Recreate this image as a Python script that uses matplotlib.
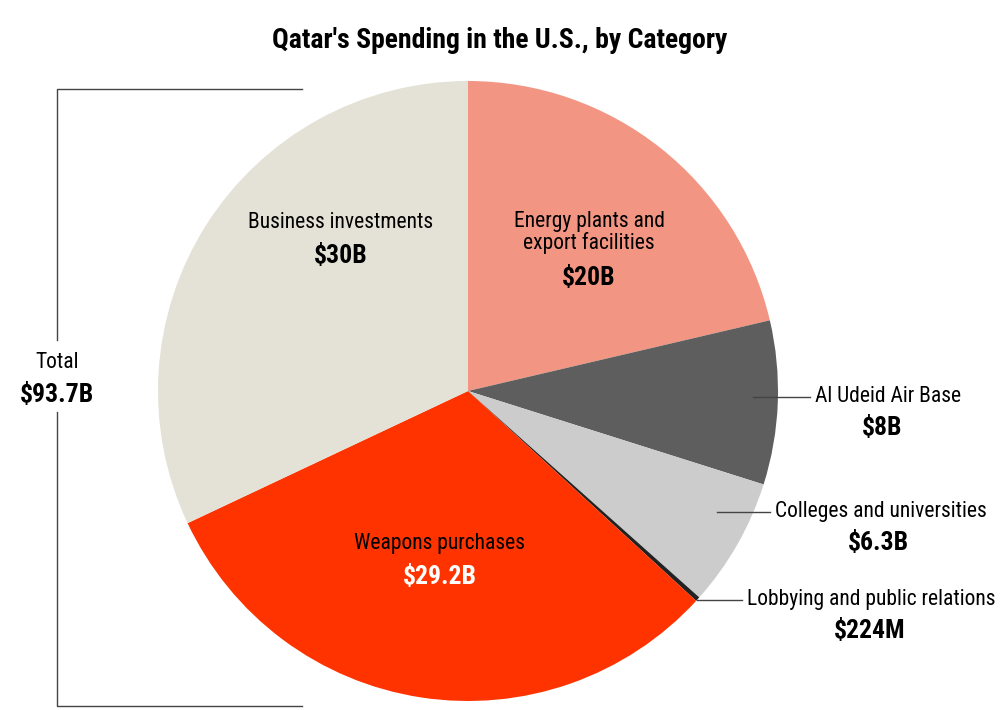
import matplotlib
matplotlib.use("Agg")
import matplotlib.pyplot as plt
from matplotlib import font_manager

# data
categories = ["Energy plants and\nexport facilities", "Al Udeid Air Base",
              "Colleges and universities", "Lobbying and public relations",
              "Weapons purchases", "Business investments"]
values = [20, 8, 6.3, 0.224, 29.2, 30]
value_labels = ["$20B", "$8B", "$6.3B", "$224M", "$29.2B", "$30B"]
colors = ["#F29683", "#5E5E5E", "#CCCCCC", "#222222", "#FF3300", "#E4E2D6"]
total_label = "$93.7B"

names = {f.name for f in font_manager.fontManager.ttflist}
fam = "DejaVu Sans"
for cand in ["Roboto Condensed", "Liberation Sans Narrow", "DejaVu Sans Condensed"]:
    if cand in names:
        fam = cand
        break
plt.rcParams["font.family"] = [fam, "DejaVu Sans"]

fig = plt.figure(figsize=(10, 7.1), dpi=100)
ax = fig.add_axes([0, 0, 1, 1])

cx, cy, r = 468, 391, 310
# y axis is inverted, so counterclock=True draws clockwise on screen
ax.pie(values, colors=colors, startangle=-90, counterclock=True,
       center=(cx, cy), radius=r, frame=True,
       wedgeprops=dict(linewidth=0))
ax.set_xlim(0, 1000)
ax.set_ylim(710, 0)
ax.set_aspect("equal")
ax.axis("off")

fs = 15.5
vs = 18.5
ax.text(500, 40, "Qatar's Spending in the U.S., by Category", ha="center", va="center",
        fontsize=20, fontweight="bold")

# inside labels
ax.text(589, 233, categories[0], ha="center", va="center", fontsize=fs, linespacing=1.0)
ax.text(589, 278, value_labels[0], ha="center", va="center", fontsize=vs, fontweight="bold")
ax.text(341, 222, categories[5], ha="center", va="center", fontsize=fs)
ax.text(341, 256, value_labels[5], ha="center", va="center", fontsize=vs, fontweight="bold")
ax.text(440, 543, categories[4], ha="center", va="center", fontsize=fs)
ax.text(440, 577, value_labels[4], ha="center", va="center", fontsize=vs,
        fontweight="bold", color="white")

# outside labels with leaders
outs = [(1, 753, 810, 397, 882), (2, 717, 770, 512, 878), (3, 697, 742, 600, 870)]
for i, x0, x1, y, xc in outs:
    ax.plot([x0, x1], [y, y], color="#444444", lw=1)
    ax.text(x1 + 5, y, categories[i], ha="left", va="center", fontsize=fs)
    ax.text(xc, y + 31, value_labels[i], ha="center", va="center", fontsize=vs,
            fontweight="bold")

# total bracket
ax.plot([302, 57, 57], [89, 89, 340], color="#444444", lw=1)
ax.plot([57, 57, 302], [412, 706, 706], color="#444444", lw=1)
ax.text(57, 363, "Total", ha="center", va="center", fontsize=fs)
ax.text(57, 395, total_label, ha="center", va="center", fontsize=vs, fontweight="bold")

fig.savefig("out.png", dpi=100)
